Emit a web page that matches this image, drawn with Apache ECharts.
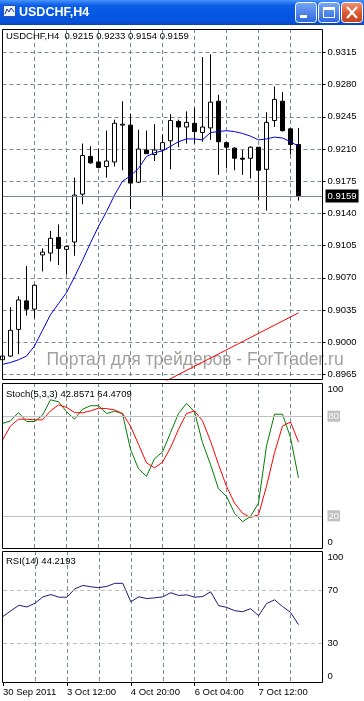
<!DOCTYPE html>
<html><head><meta charset="utf-8">
<script src="https://cdn.jsdelivr.net/npm/echarts@6/dist/echarts.min.js"></script>
<style>html,body{margin:0;padding:0;background:#fff;}#c{width:364px;height:701px;}</style>
</head><body><div id="c"></div>
<script>
const windowTitle = 'USDCHF,H4';
const categories = ['30 Sep 04:00','30 Sep 08:00','30 Sep 12:00','30 Sep 16:00','30 Sep 20:00',
'3 Oct 00:00','3 Oct 04:00','3 Oct 08:00','3 Oct 12:00','3 Oct 16:00','3 Oct 20:00',
'4 Oct 00:00','4 Oct 04:00','4 Oct 08:00','4 Oct 12:00','4 Oct 16:00','4 Oct 20:00',
'5 Oct 00:00','5 Oct 04:00','5 Oct 08:00','5 Oct 12:00','5 Oct 16:00','5 Oct 20:00',
'6 Oct 00:00','6 Oct 04:00','6 Oct 08:00','6 Oct 12:00','6 Oct 16:00','6 Oct 20:00',
'7 Oct 00:00','7 Oct 04:00','7 Oct 08:00','7 Oct 12:00','7 Oct 16:00','7 Oct 20:00',
'10 Oct 00:00','10 Oct 04:00','10 Oct 08:00','10 Oct 12:00','10 Oct 16:00','10 Oct 20:00'];
const firstLabel = '30 Sep 2011';
const opens  = [0.8981,0.8985,0.9014,0.9045,0.9036,0.9095,0.9097,0.9114,0.9101,0.9109,0.9161,0.9202,0.9196,0.9191,0.9196,0.9236,0.9236,0.9174,0.9209,0.9204,0.9209,0.9219,0.9240,0.9234,0.9238,0.9228,0.9233,0.9262,0.9217,0.9211,0.9200,0.9200,0.9212,0.9188,0.9241,0.9262,0.9232,0.9215];
const highs  = [0.9010,0.9038,0.9050,0.9083,0.9063,0.9102,0.9121,0.9128,0.9105,0.9179,0.9216,0.9213,0.9210,0.9230,0.9242,0.9262,0.9248,0.9231,0.9230,0.9237,0.9226,0.9248,0.9242,0.9251,0.9255,0.9310,0.9313,0.9269,0.9218,0.9212,0.9209,0.9213,0.9212,0.9250,0.9278,0.9272,0.9233,0.9233];
const lows   = [0.8978,0.8984,0.8987,0.9029,0.9026,0.9077,0.9088,0.9084,0.9074,0.9094,0.9150,0.9194,0.9189,0.9179,0.9191,0.9187,0.9145,0.9173,0.9205,0.9197,0.9158,0.9188,0.9212,0.9216,0.9216,0.9218,0.9220,0.9182,0.9189,0.9187,0.9182,0.9178,0.9155,0.9143,0.9234,0.9229,0.9204,0.9154];
const closes = [0.8985,0.9013,0.9046,0.9036,0.9062,0.9098,0.9113,0.9102,0.9104,0.9160,0.9203,0.9195,0.9190,0.9197,0.9238,0.9237,0.9173,0.9210,0.9205,0.9209,0.9217,0.9241,0.9234,0.9239,0.9229,0.9234,0.9261,0.9218,0.9212,0.9200,0.9199,0.9212,0.9187,0.9239,0.9264,0.9230,0.9215,0.9159];
const maValues = [0.8976,0.8978,0.8981,0.8985,0.8996,0.9013,0.9030,0.9042,0.9054,0.9071,0.9089,0.9108,0.9126,0.9142,0.9160,0.9175,0.9181,0.9189,0.9202,0.9206,0.9208,0.9213,0.9218,0.9221,0.9221,0.9220,0.9228,0.9229,0.9230,0.9229,0.9227,0.9224,0.9220,0.9221,0.9223,0.9222,0.9218,0.9213];
const trendLine = [null,null,null,null,null,null,null,null,null,null,null,null,null,null,null,null,null,null,null,null,0.8956,null,null,null,null,null,null,null,null,null,null,null,null,null,null,null,null,0.9032];
const stochMain = [75.6,77.2,82.2,76.8,76.8,80.6,89.9,88.7,82.8,78.2,84.2,86.3,86.3,81.6,83.0,81.6,60.0,48.3,43.8,54.4,58.4,70.1,81.6,87.7,82.6,64.1,50.9,36.2,31.7,21.6,16.5,19.6,27.7,62.0,81.2,81.2,67.1,42.8571];
const stochSignal = [65.6,74.1,78.2,78.2,77.8,77.8,83.2,86.8,85.3,82.2,82.0,83.2,84.8,84.6,83.8,81.6,74.1,63.0,51.9,48.9,52.3,61.0,72.1,81.6,83.2,77.2,65.0,50.9,37.8,27.7,21.6,19.0,20.6,37.8,58.0,74.1,76.5,64.4709];
const rsiValues = [50.4,54.8,58.9,57.6,60.4,65.3,67.0,65.0,65.0,71.4,73.9,72.9,72.2,73.2,75.5,75.5,61.5,65.3,64.0,64.5,65.3,68.4,66.3,66.8,65.0,65.5,69.1,58.6,57.3,54.8,54.0,56.3,51.0,60.2,63.0,57.9,53.5,44.2193];
const priceTicks = [0.8965,0.9000,0.9035,0.9070,0.9105,0.9140,0.9175,0.9210,0.9245,0.9280,0.9315];
const priceRange = [0.8959, 0.93405];
const stochTicks = [0,20,80,100];
const stochLevels = [80,20];
const rsiTicks = [0,30,70,100];
const rsiLevels = [70,30];
const watermark = 'Портал для трейдеров - ForTrader.ru';

const FONT = '"Liberation Sans", Arial, sans-serif';
const FS = 9.5;
const GRIDC = '#778899';
const DASH = [4,3];
const last = closes.length - 1;
const candleData = opens.map((o,i)=>[o, closes[i], lows[i], highs[i]]);

const panes = [
  {top:29, height:351},
  {top:383, height:166},
  {top:551, height:132}
];
const labelInt = (i)=> i % 8 === 0 && i <= 32;

function xAxisFor(gi, showLabels){
  return {type:'category', gridIndex:gi, data:categories, boundaryGap:false,
    axisLine:{show:false},
    axisTick:{show:showLabels, interval:labelInt, length:3, lineStyle:{color:'#000'}},
    axisLabel:{show:showLabels, interval:labelInt, align:'left', margin:4, color:'#000', fontSize:FS, fontFamily:FONT,
      formatter:(v,i)=> i===0 ? firstLabel : v},
    splitLine:{show:true, interval:(i)=> i>0 && i%4===0 && i<40, lineStyle:{color:GRIDC, type:DASH, width:1}}};
}
const richBase = {
  top:{padding:[13,0,0,0], fontSize:FS, fontFamily:FONT, color:'#000'},
  bot:{padding:[0,0,13,0], fontSize:FS, fontFamily:FONT, color:'#000'},
  lvl:{backgroundColor:'#c0c0c0', color:'#fff', padding:[1,1,0,1], fontSize:FS, fontFamily:FONT},
  mid:{fontSize:FS, fontFamily:FONT, color:'#000'}
};
function oscAxis(gi, ticks, boxed){
  return {type:'value', gridIndex:gi, position:'right', min:0, max:100,
    axisLine:{show:false}, axisTick:{show:false}, splitLine:{show:false},
    axisLabel:{customValues:ticks, margin:5, fontSize:FS, fontFamily:FONT, color:'#000',
      formatter:(v)=> v===100 ? '{top|100}' : v===0 ? '{bot|0}' : (boxed ? '{lvl|'+v+'}' : '{mid|'+v+'}'),
      rich:richBase}};
}

const option = {
  animation:false,
  backgroundColor:'#ffffff',
  grid: panes.map(p=>({left:2.5, width:320, top:p.top, height:p.height, show:false})),
  xAxis:[xAxisFor(0,false), xAxisFor(1,false), xAxisFor(2,true)],
  yAxis:[
    {type:'value', gridIndex:0, position:'right', min:priceRange[0], max:priceRange[1], scale:true,
     axisLine:{show:false},
     axisTick:{show:true, customValues:priceTicks, length:3, lineStyle:{color:'#000'}},
     axisLabel:{customValues:priceTicks, margin:5, color:'#000', fontSize:FS, fontFamily:FONT, formatter:(v)=>v.toFixed(4)},
     splitLine:{show:true, lineStyle:{color:GRIDC, type:DASH, width:1}}},
    oscAxis(1, stochTicks, true),
    oscAxis(2, rsiTicks, false)
  ],
  series:[
    {type:'candlestick', xAxisIndex:0, yAxisIndex:0, data:candleData, barWidth:5, z:2,
     itemStyle:{color:'#ffffff', color0:'#000000', borderColor:'#000000', borderColor0:'#000000', borderWidth:1}},
    {type:'line', xAxisIndex:0, yAxisIndex:0, data:maValues, symbol:'none', lineStyle:{color:'#0000e0', width:1}, z:3,
     markLine:{silent:true, symbol:['none','none'], animation:false, precision:4,
       data:[{yAxis:closes[last]}],
       lineStyle:{color:GRIDC, type:'solid', width:1},
       label:{show:true, position:'end', distance:3, formatter:()=>closes[last].toFixed(4),
         backgroundColor:'#000', color:'#fff', padding:[2,2,1,2], fontSize:FS, fontFamily:FONT}}},
    {type:'line', xAxisIndex:0, yAxisIndex:0, data:trendLine, connectNulls:true, symbol:'none', lineStyle:{color:'#ff0000', width:1}, z:3, clip:true},
    {type:'line', xAxisIndex:1, yAxisIndex:1, data:stochMain, symbol:'none', lineStyle:{color:'#008000', width:1}, z:3,
     markLine:{silent:true, symbol:['none','none'], animation:false, data:stochLevels.map(v=>({yAxis:v})),
       lineStyle:{color:'#c0c0c0', type:'solid', width:1}, label:{show:false}}},
    {type:'line', xAxisIndex:1, yAxisIndex:1, data:stochSignal, symbol:'none', lineStyle:{color:'#ff0000', width:1}, z:4},
    {type:'line', xAxisIndex:2, yAxisIndex:2, data:rsiValues, symbol:'none', lineStyle:{color:'#1c1c78', width:1}, z:3,
     markLine:{silent:true, symbol:['none','none'], animation:false, data:rsiLevels.map(v=>({yAxis:v})),
       lineStyle:{color:'#c0c0c0', type:DASH, width:1}, label:{show:false}}}
  ],
  graphic:[
    {type:'text', z:-1, silent:true, style:{text:watermark, x:46.5, y:360, verticalAlign:'middle', align:'left',
      font:'17.5px "Liberation Sans", Arial, sans-serif', fill:'#a49f9f'}},
    {type:'rect', z:10, silent:true, shape:{x:0,y:0,width:364,height:25},
     style:{fill:{type:'linear',x:0,y:0,x2:0,y2:1,colorStops:[
       {offset:0,color:'#4a95fb'},{offset:0.1,color:'#2a78f2'},{offset:0.22,color:'#0c5ee6'},
       {offset:0.6,color:'#0556e2'},{offset:0.88,color:'#0851d9'},{offset:1,color:'#0744bd'}]}}},
    {type:'rect', z:11, silent:true, shape:{x:3.5,y:5.5,width:12,height:11}, style:{fill:'#eef3ff', stroke:'#2a4fa8', lineWidth:1}},
    {type:'polyline', z:12, silent:true, shape:{points:[[5,14],[7,9],[9,12],[11,8],[14,12]]}, style:{stroke:'#1b3d9a', lineWidth:1, fill:null}},
    {type:'text', z:12, silent:true, style:{text:windowTitle, x:19, y:12.5, verticalAlign:'middle',
      font:'bold 12.5px "Liberation Sans", Arial, sans-serif', fill:'#ffffff', textShadowColor:'#0a2a80', textShadowOffsetX:1, textShadowOffsetY:1, textShadowBlur:0}},
    {type:'rect', z:11, silent:true, shape:{x:295.5,y:2.5,width:21,height:20,r:3},
     style:{stroke:'#ffffff', lineWidth:1, fill:{type:'linear',x:0,y:0,x2:0,y2:1,colorStops:[{offset:0,color:'#7aa8f8'},{offset:1,color:'#2b66dc'}]}}},
    {type:'rect', z:12, silent:true, shape:{x:300,y:15,width:7,height:3}, style:{fill:'#ffffff'}},
    {type:'rect', z:11, silent:true, shape:{x:318.5,y:2.5,width:21,height:20,r:3},
     style:{stroke:'#ffffff', lineWidth:1, fill:{type:'linear',x:0,y:0,x2:0,y2:1,colorStops:[{offset:0,color:'#7aa8f8'},{offset:1,color:'#2b66dc'}]}}},
    {type:'rect', z:12, silent:true, shape:{x:323.5,y:7.5,width:11,height:10}, style:{fill:null, stroke:'#ffffff', lineWidth:1}},
    {type:'rect', z:12, silent:true, shape:{x:323,y:7,width:12,height:3}, style:{fill:'#ffffff'}},
    {type:'rect', z:11, silent:true, shape:{x:341.5,y:2.5,width:21,height:20,r:3},
     style:{stroke:'#ffffff', lineWidth:1, fill:{type:'linear',x:0,y:0,x2:0,y2:1,colorStops:[{offset:0,color:'#ec9a7c'},{offset:0.5,color:'#dd5a33'},{offset:1,color:'#c2401b'}]}}},
    {type:'line', z:12, silent:true, shape:{x1:347,y1:7,x2:357,y2:18}, style:{stroke:'#ffffff', lineWidth:2.2}},
    {type:'line', z:12, silent:true, shape:{x1:357,y1:7,x2:347,y2:18}, style:{stroke:'#ffffff', lineWidth:2.2}},
    {type:'rect', z:20, silent:true, shape:{x:2.5,y:29.5,width:320,height:350}, style:{fill:null, stroke:'#000', lineWidth:1}},
    {type:'rect', z:20, silent:true, shape:{x:2.5,y:383.5,width:320,height:165}, style:{fill:null, stroke:'#000', lineWidth:1}},
    {type:'rect', z:20, silent:true, shape:{x:2.5,y:551.5,width:320,height:131}, style:{fill:null, stroke:'#000', lineWidth:1}},
    {type:'text', z:21, silent:true, style:{text: windowTitle + '  ' + [opens[last],highs[last],lows[last],closes[last]].map(v=>v.toFixed(4)).join(' '),
      x:6, y:36, verticalAlign:'middle', font:FS+'px '+FONT, fill:'#000'}},
    {type:'text', z:21, silent:true, style:{text:'Stoch(5,3,3) ' + stochMain[last].toFixed(4) + ' ' + stochSignal[last].toFixed(4),
      x:6, y:394, verticalAlign:'middle', font:FS+'px '+FONT, fill:'#000'}},
    {type:'text', z:21, silent:true, style:{text:'RSI(14) ' + rsiValues[last].toFixed(4),
      x:6, y:561, verticalAlign:'middle', font:FS+'px '+FONT, fill:'#000'}}
  ]
};
const chart = echarts.init(document.getElementById('c'));
chart.setOption(option);
</script>
</body></html>
